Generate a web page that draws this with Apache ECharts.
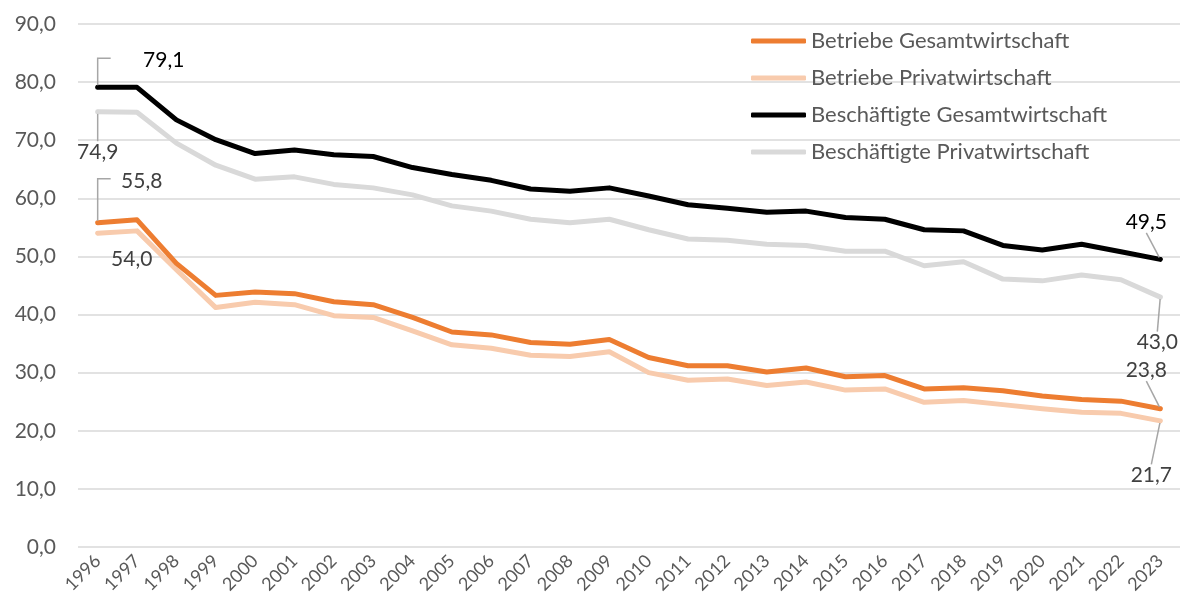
<!DOCTYPE html>
<html><head><meta charset="utf-8">
<script src="https://cdn.jsdelivr.net/npm/echarts@6/dist/echarts.min.js"></script>
<style>html,body{margin:0;padding:0;background:#fff}#c{width:1183px;height:603px}</style>
</head><body><div id="c"></div>
<script>
const years = ['1996','1997','1998','1999','2000','2001','2002','2003','2004','2005','2006','2007','2008','2009','2010','2011','2012','2013','2014','2015','2016','2017','2018','2019','2020','2021','2022','2023'];
const betriebeGesamt = [55.8,56.3,48.8,43.3,43.9,43.6,42.2,41.7,39.5,37.0,36.5,35.2,34.9,35.7,32.6,31.2,31.2,30.1,30.8,29.3,29.5,27.2,27.4,26.9,26.0,25.4,25.1,23.8];
const betriebePrivat = [54.0,54.4,47.7,41.2,42.1,41.7,39.8,39.5,37.2,34.8,34.2,33.0,32.8,33.6,30.0,28.7,28.9,27.8,28.4,27.0,27.2,24.9,25.2,24.5,23.8,23.2,23.0,21.7];
const beschGesamt = [79.1,79.1,73.5,70.1,67.7,68.3,67.5,67.2,65.3,64.1,63.1,61.6,61.2,61.8,60.4,58.9,58.3,57.6,57.8,56.7,56.4,54.6,54.4,51.9,51.1,52.1,50.8,49.5];
const beschPrivat = [74.9,74.8,69.5,65.7,63.3,63.7,62.4,61.8,60.6,58.7,57.8,56.4,55.8,56.4,54.6,53.0,52.8,52.1,51.9,50.9,50.9,48.4,49.1,46.1,45.8,46.8,46.0,43.0];
const seriesNames = ['Betriebe Gesamtwirtschaft','Betriebe Privatwirtschaft','Beschäftigte Gesamtwirtschaft','Beschäftigte Privatwirtschaft'];
const yTicks = {min:0, max:90, interval:10};

const fmt = v => v.toFixed(1).replace('.', ',');
const last = years.length - 1;
// label offsets [start, end] in px (layout only)
const offs = [
  [[44,-42],[-14,-38]],
  [[34,26],[-9,54]],
  [[66,-27],[-14,-37]],
  [[0,40],[-3,45]]
];
// leader drawn by library label line (true) or by elbow custom series ('elbow')
const showLeader = [[false,true],[false,true],[false,true],[true,true]];
const elbows = [ {i:2, up:29}, {i:0, up:44} ];
const colors = ['#ED7D31','#F8CBAD','#000000','#D9D9D9'];
const labelColors = ['#404040','#404040','#000000','#404040'];
const datasets = [betriebeGesamt, betriebePrivat, beschGesamt, beschPrivat];

function mkSeries(i){
  return {
    name: seriesNames[i], type:'line', data: datasets[i].map((v,k)=>{
      if(k===0||k===last){
        const e = k===0?0:1;
        return {value:v, label:{show:true}, labelLine:{show:showLeader[i][e]}};
      }
      return v;
    }),
    showAllSymbol:true,
    symbol:'circle',
    symbolSize:(v,p)=> (p.dataIndex===0||p.dataIndex===last)?4:0,
    itemStyle:{color:colors[i]},
    lineStyle:{color:colors[i], width:5, cap:'round', join:'round'},
    label:{show:false, position:'inside', formatter:p=>fmt(p.value), fontFamily:'Lato', fontSize:21, color:labelColors[i]},
    labelLine:{lineStyle:{color:'#A6A6A6', width:1.5}},
    labelLayout: p => {
      const e = p.dataIndex===0?0:1;
      return {dx: offs[i][e][0], dy: offs[i][e][1]};
    },
    emphasis:{disabled:true},
    animation:false,
    z: 10 - i
  };
}

const elbowSeries = {
  type:'custom', silent:true, z:20,
  data: elbows.map(e => [0, datasets[e.i][0], e.up]),
  renderItem: (params, api) => {
    const p = api.coord([api.value(0), api.value(1)]);
    const up = api.value(2);
    return {type:'polyline', shape:{points:[[p[0], p[1]-2],[p[0], p[1]-up],[p[0]+13, p[1]-up]]},
      style:{stroke:'#A6A6A6', lineWidth:1.5, fill:null}};
  }
};

const chart = echarts.init(document.getElementById('c'), null, {renderer:'canvas'});
chart.setOption({
  backgroundColor:'#fff',
  animation:false,
  grid:{left:78, right:3, top:24, bottom:56, containLabel:false},
  legend:{
    orient:'vertical', left:746, top:24, itemWidth:55, itemHeight:5, itemGap:13,
    icon:'roundRect',
    textStyle:{fontFamily:'Lato', fontSize:22, color:'#595959', lineHeight:24},
    data: seriesNames
  },
  xAxis:{
    type:'category', data:years, boundaryGap:true,
    axisLine:{show:false}, axisTick:{show:false},
    axisLabel:{rotate:45, fontFamily:'Lato', fontSize:18, color:'#595959', margin:11, interval:0}
  },
  yAxis:{
    type:'value', min:yTicks.min, max:yTicks.max, interval:yTicks.interval,
    axisLine:{show:false}, axisTick:{show:false},
    splitLine:{lineStyle:{color:'#D9D9D9', width:1.5}},
    axisLabel:{formatter:v=>fmt(v), fontFamily:'Lato', fontSize:21, color:'#595959', margin:22}
  },
  series:[mkSeries(3), mkSeries(2), mkSeries(1), mkSeries(0), elbowSeries]
});
</script></body></html>
